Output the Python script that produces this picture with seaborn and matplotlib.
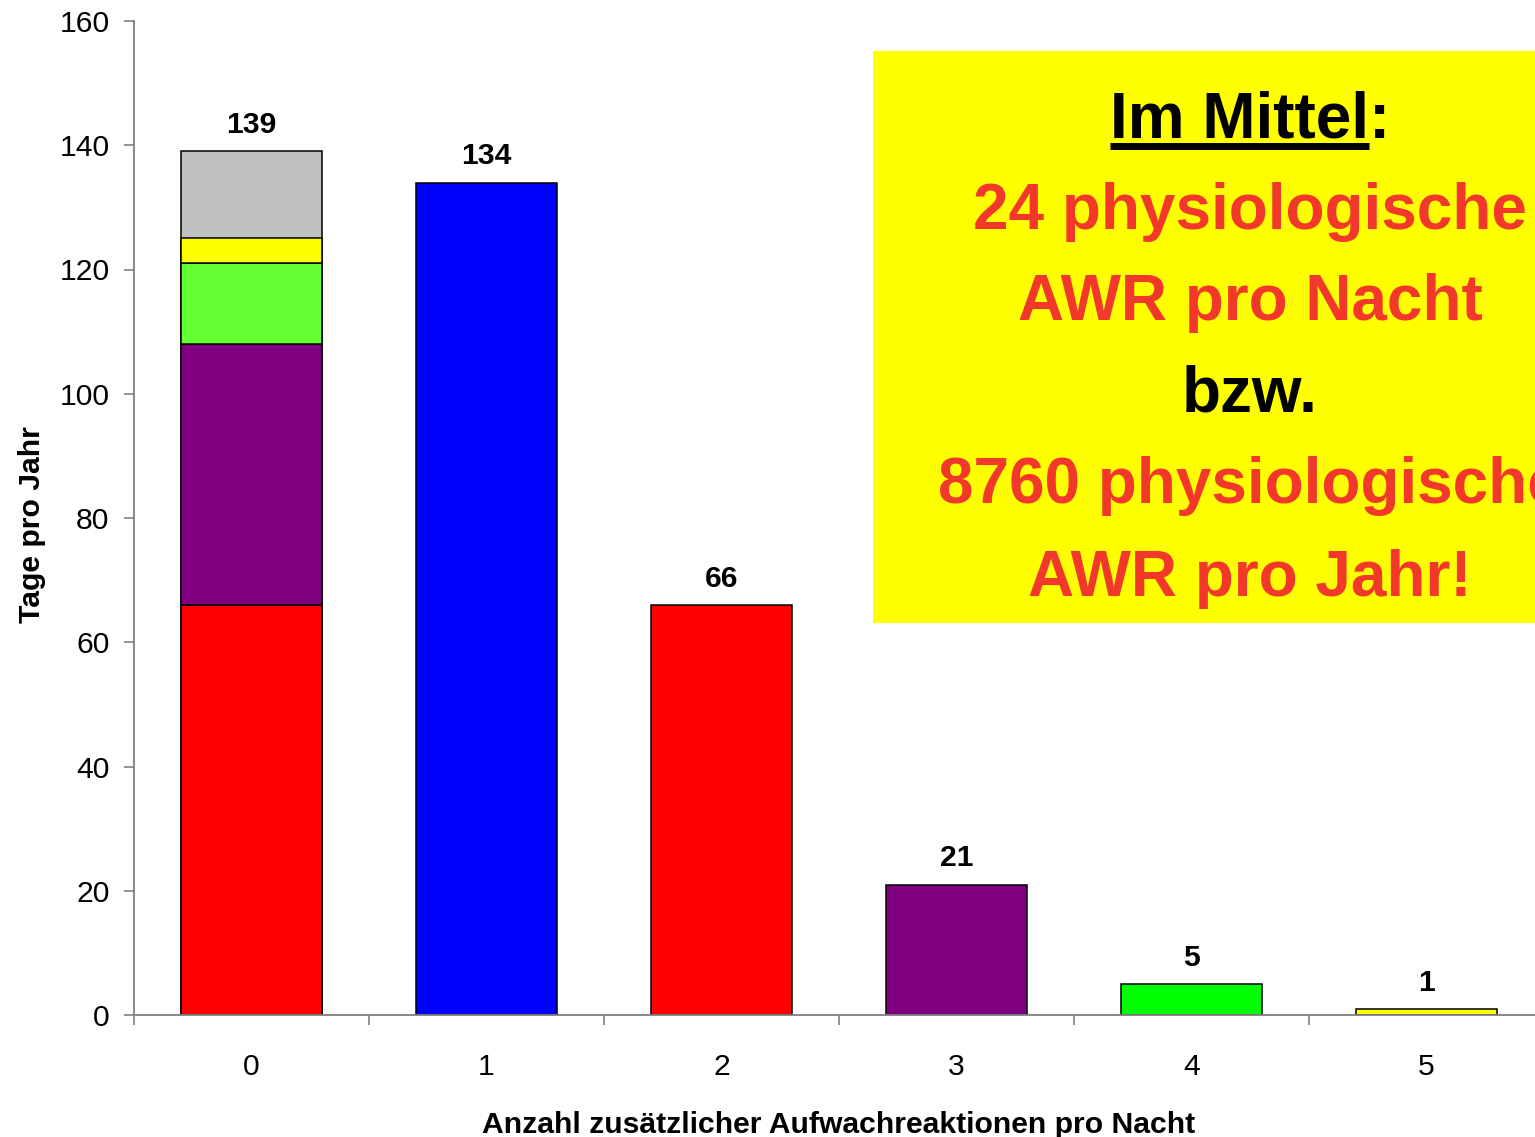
import matplotlib
matplotlib.use('Agg')
import matplotlib.pyplot as plt
import matplotlib.patches as mpatches
from matplotlib.lines import Line2D
from matplotlib.ticker import FixedLocator
import seaborn as sns
import numpy as np
import pandas as pd

# data
categories = ['0', '1', '2', '3', '4', '5']
totals = [139, 134, 66, 21, 5, 1]
bar_colors = ['#C0C0C0', '#0000FF', '#FF0000', '#800080', '#00FF00', '#FFFF00']

# stacked parts of the first bar (bottom to top), gray top part = rest
stack_parts = [66, 42, 13, 4]
stack_colors = ['#FF0000', '#800080', '#66FF33', '#FFFF00']

box_lines = ['Im Mittel:', '24 physiologische', 'AWR pro Nacht', 'bzw.',
             '8760 physiologische', 'AWR pro Jahr!']
box_colors = ['black', '#F2382A', '#F2382A', 'black', '#F2382A', '#F2382A']

sns.set_style('white')
plt.rcParams['font.family'] = ['Liberation Sans', 'DejaVu Sans']
plt.rcParams['text.color'] = 'black'
plt.rcParams['axes.labelcolor'] = 'black'
plt.rcParams['xtick.color'] = 'black'
plt.rcParams['ytick.color'] = 'black'

fs = 21.7

fig = plt.figure(figsize=(15.35, 11.37), dpi=100)
ax = fig.add_axes([134 / 1535, 122 / 1137, 1410 / 1535, 994 / 1137])

df = pd.DataFrame({'x': categories, 'y': totals})
sns.barplot(data=df, x='x', y='y', hue='x', palette=bar_colors, legend=False,
            width=0.6, saturation=1, edgecolor='black', linewidth=1.1, ax=ax)

bottom = 0
for part, col in zip(stack_parts, stack_colors):
    ax.bar(0, part, bottom=bottom, width=0.6, color=col, edgecolor='black', linewidth=1.1)
    bottom += part

for i, v in enumerate(totals):
    ax.annotate(str(v), (i, v), xytext=(0, 13), textcoords='offset points',
                ha='center', va='baseline', fontsize=fs, fontweight='bold', color='black')

ax.set_xlim(-0.5, 5.5)
ax.set_ylim(0, 160)
ax.set_yticks(np.arange(0, 161, 20))
ax.xaxis.set_minor_locator(FixedLocator(np.arange(-0.5, 5.6, 1)))

for s in ['top', 'right']:
    ax.spines[s].set_visible(False)
for s in ['left', 'bottom']:
    ax.spines[s].set_color('#808080')
    ax.spines[s].set_linewidth(1.3)

ax.tick_params(axis='y', which='major', direction='out', length=7.2, width=1.2,
               color='#808080', labelcolor='black', pad=10.5, labelsize=fs, left=True)
ax.tick_params(axis='x', which='major', length=0, pad=27.5, labelsize=fs,
               labelcolor='black', bottom=True)
ax.tick_params(axis='x', which='minor', direction='out', length=7.2, width=1.2,
               color='#808080', bottom=True)

ax.set_xlabel('Anzahl zusätzlicher Aufwachreaktionen pro Nacht', fontsize=fs,
              fontweight='bold', va='baseline', color='black')
ax.xaxis.set_label_coords(0.5, -0.1187)
ax.set_ylabel('Tage pro Jahr', fontsize=fs, fontweight='bold', va='baseline', color='black')
ax.yaxis.set_label_coords(-0.0667, 0.493)

# yellow text box
rect = mpatches.Rectangle((873 / 1535, 1 - 623 / 1137), 0.5, (623 - 51) / 1137,
                          transform=fig.transFigure, facecolor='#FFFF00',
                          edgecolor='none', zorder=5)
fig.add_artist(rect)

baselines = [137, 229, 320, 411, 503, 596]
texts = []
for line, col, b in zip(box_lines, box_colors, baselines):
    t = fig.text(1250 / 1535, 1 - b / 1137, line, color=col, fontsize=46,
                 fontweight='bold', ha='center', va='baseline', zorder=6)
    texts.append(t)

# underline "Im Mittel" (without colon)
fig.canvas.draw()
r = fig.canvas.get_renderer()
bb = texts[0].get_window_extent(renderer=r)
tmp = fig.text(0, 0, 'Im Mittel', fontsize=46, fontweight='bold')
w = tmp.get_window_extent(renderer=r).width
tmp.remove()
W, H = fig.canvas.get_width_height()
x0 = bb.x0 / W
x1 = (bb.x0 + w) / W
yl = 1 - 145.5 / 1137
fig.add_artist(Line2D([x0, x1], [yl, yl], transform=fig.transFigure,
                      color='black', linewidth=5, solid_capstyle='butt', zorder=7))

plt.savefig('out.png', dpi=100)
